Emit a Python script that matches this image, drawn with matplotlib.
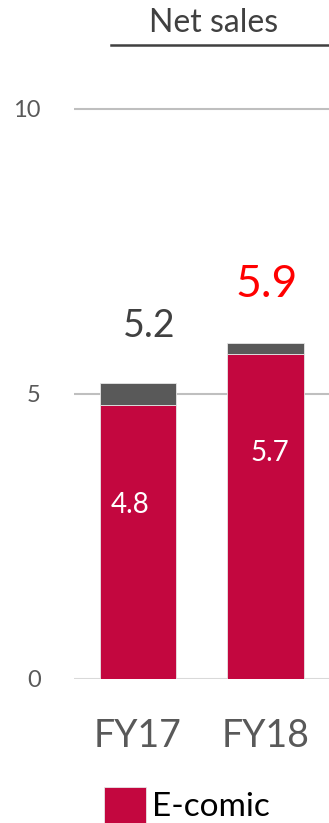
import matplotlib.pyplot as plt
from matplotlib.lines import Line2D

plt.rcParams['font.family'] = ['Lato', 'DejaVu Sans']

# Net sales by fiscal year (billion yen)
years = ['FY17', 'FY18']
ecomic = [4.8, 5.7]
totals = [5.2, 5.9]
other = [t - e for t, e in zip(totals, ecomic)]

red = '#C3073F'
gray = '#595959'

fig = plt.figure(figsize=(3.29, 8.23), dpi=100)
ax = fig.add_axes([0.225, 0.175, 0.775, 0.762])

x = list(range(len(years)))
bars = ax.bar(x, ecomic, width=0.6, color=red, edgecolor='#E6E6E6', linewidth=0.6,
              label='E-comic', zorder=3)
ax.bar(x, other, width=0.6, bottom=ecomic, color=gray, edgecolor='#E6E6E6',
       linewidth=0.6, zorder=3)

# value inside the e-comic segment
for xi, v in zip(x, ecomic):
    ax.text(xi - 0.06 + 0.095 * xi, v - 1.88, f'{v:.1f}', color='white',
            fontsize=20, ha='center', va='baseline', zorder=4)

# totals on top, latest year highlighted
total_colors = ['#404040', '#FF0000']
total_sizes = [27, 32]
for xi, t, c, s in zip(x, totals, total_colors, total_sizes):
    ax.text(xi + 0.09 - 0.08 * xi, t + 0.8, f'{t:.1f}', color=c, fontsize=s,
            ha='center', va='baseline')

ax.set_xlim(-0.5, 1.5)
ax.set_ylim(0, 11)
ax.set_yticks([0, 5, 10])
ax.set_xticks(x)
ax.set_xticklabels(years)
ax.tick_params(axis='y', length=0, pad=24, labelsize=17, labelcolor=gray)
ax.tick_params(axis='x', length=0, pad=28, labelsize=27, labelcolor=gray)
for s in ax.spines.values():
    s.set_visible(False)
ax.yaxis.grid(True, color='#BFBFBF', linewidth=1.5, zorder=0)
ax.set_axisbelow(True)
ax.get_ygridlines()[0].set_color('#D9D9D9')

# header with underline
fig.text(0.648, 0.961, 'Net sales', fontsize=23, color='#404040',
         ha='center', va='baseline')
fig.add_artist(Line2D([0.337, 1.0], [0.9455, 0.9455], color='#404040', linewidth=1.8))

leg = fig.legend(handles=[bars], loc='center left', bbox_to_anchor=(0.316, 0.022),
                 frameon=False, fontsize=24, handlelength=1.25, handleheight=1.25,
                 handletextpad=0.2, borderpad=0, borderaxespad=0)
for t in leg.get_texts():
    t.set_color('black')

fig.savefig('out.png', dpi=100)
